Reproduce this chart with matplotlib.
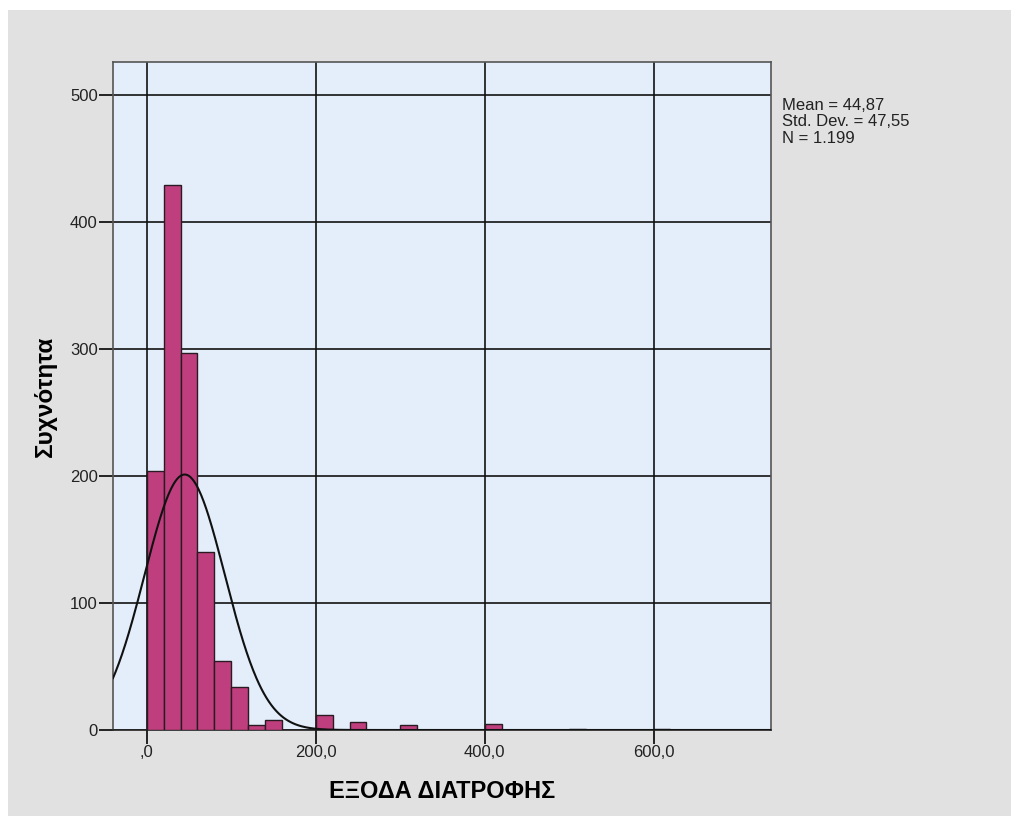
import numpy as np
import matplotlib
matplotlib.use('Agg')
import matplotlib.pyplot as plt

# histogram of food expenses (bin width 20)
bin_left = [0, 20, 40, 60, 80, 100, 120, 140, 200, 240, 300, 400, 500, 600]
counts = [204, 429, 297, 140, 54, 34, 4, 8, 12, 6, 4, 5, 1, 1]
bin_width = 20

mean_val = 44.87
std_val = 47.55
n_val = 1199

x_ticks = [0, 200, 400, 600]
x_tick_labels = [",0", "200,0", "400,0", "600,0"]
y_ticks = [0, 100, 200, 300, 400, 500]

plt.rcParams['font.family'] = ['Liberation Sans', 'DejaVu Sans']

fig = plt.figure(figsize=(10.11, 8.16), dpi=100)
fig.patch.set_facecolor('white')
# grey panel, white strip only along top and left
fig.patches.append(plt.Rectangle((8 / 1011, 0), 1, 1 - 10 / 816,
                                 transform=fig.transFigure, facecolor='#e1e1e1',
                                 edgecolor='none', zorder=-1))

ax = fig.add_axes([113 / 1011, 86 / 816, 658 / 1011, 668 / 816])
ax.set_facecolor('#e3eefa')

ax.bar(bin_left, counts, width=bin_width, align='edge', color='#bf3f7e',
       edgecolor='#2a1a22', linewidth=1.0, zorder=3)

xs = np.linspace(-40, 740, 800)
curve = n_val * bin_width / (std_val * np.sqrt(2 * np.pi)) * np.exp(-0.5 * ((xs - mean_val) / std_val) ** 2)
ax.plot(xs, curve, color='#111111', linewidth=1.5, zorder=4)

ax.set_xlim(-40, 739)
ax.set_ylim(0, 526)
ax.set_xticks(x_ticks)
ax.set_xticklabels(x_tick_labels)
ax.set_yticks(y_ticks)
ax.grid(True, color='#111111', linewidth=1.2, zorder=1)
ax.set_axisbelow(True)
ax.tick_params(axis='both', length=10, width=1.4, color='#222222', labelsize=12,
               labelcolor='#222222', pad=1)
for s in ax.spines.values():
    s.set_color('#555555')
    s.set_linewidth(1.2)
ax.spines['bottom'].set_color('#222222')

ax.set_xlabel("ΕΞΟΔΑ ΔΙΑΤΡΟΦΗΣ", fontsize=17, fontweight='bold', labelpad=14)
ax.set_ylabel("Συχνότητα", fontsize=17.5, fontweight='bold', labelpad=9)

fig.text(782 / 1011, 1 - 98 / 816,
         "Mean = 44,87\nStd. Dev. = 47,55\nN = 1.199",
         fontsize=12, color='#222222', va='top', ha='left', linespacing=1.12)

plt.savefig("out.png", dpi=100)
